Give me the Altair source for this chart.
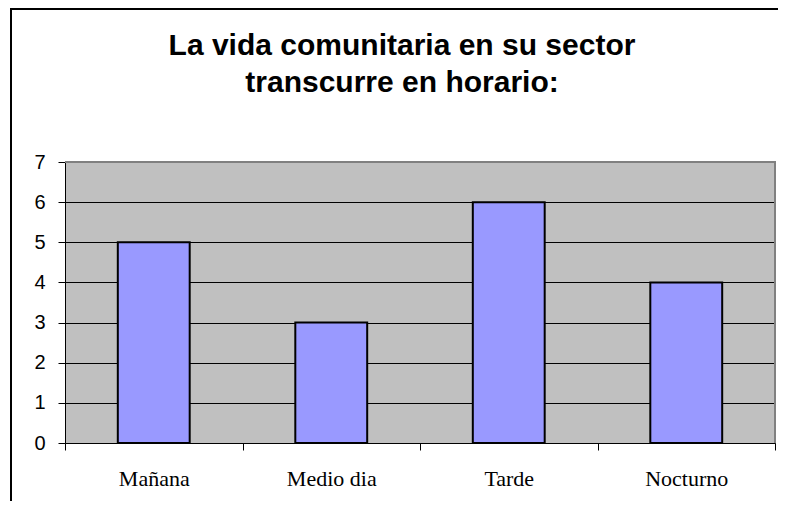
import altair as alt
import pandas as pd

categories = ["Mañana", "Medio dia", "Tarde", "Nocturno"]
values = [5, 3, 6, 4]
y_ticks = [0, 1, 2, 3, 4, 5, 6, 7]
title_lines = ["La vida comunitaria en su sector", "transcurre en horario:"]

df = pd.DataFrame({"horario": categories, "valor": values})

W, H = 710, 281

bars = alt.Chart(df).mark_bar(
    color="#9999FF", stroke="black", strokeWidth=2, width={"band": 0.405}
).encode(
    x=alt.X(
        "horario:N", sort=categories,
        scale=alt.Scale(paddingInner=0, paddingOuter=0),
        axis=alt.Axis(
            title=None, labelAngle=0, tickBand="extent", grid=False,
            domainColor="black", domainWidth=1, tickColor="black", tickSize=7, tickWidth=1,
            labelFont="Liberation Serif", labelFontSize=22, labelColor="black",
            labelPadding=18,
        ),
    ),
    y=alt.Y(
        "valor:Q", scale=alt.Scale(domain=[0, 7], nice=False),
        axis=alt.Axis(
            title=None, values=y_ticks, grid=True, gridColor="black", gridWidth=1, gridOpacity=1,
            domainColor="black", domainWidth=1, tickColor="black", tickSize=7, tickWidth=1,
            labelFont="Liberation Sans", labelFontSize=20, labelColor="black", labelPadding=13,
        ),
    ),
)

one = pd.DataFrame({"k": [0]})


def rule(x, x2, y, y2, color, w):
    return alt.Chart(one).mark_rule(color=color, strokeWidth=w, clip=False).encode(
        x=alt.value(x), x2=alt.value(x2), y=alt.value(y), y2=alt.value(y2)
    )


def title_text(line, y):
    return alt.Chart(one).mark_text(
        text=line, font="Liberation Sans", fontSize=30, fontWeight="bold", color="black",
        align="center", baseline="alphabetic", clip=False,
    ).encode(x=alt.value(337), y=alt.value(y))


decor = [
    rule(0, W + 1, 0, 0, "#808080", 2),
    rule(W, W, 0, H, "#808080", 2),
    rule(-54, -54, -154, 345, "black", 2),
    rule(-55, 713, -153, -153, "black", 2),
    title_text(title_lines[0], -107),
    title_text(title_lines[1], -70),
]

chart = alt.layer(bars, *decor).properties(
    width=W, height=H,
    view=alt.ViewBackground(fill="#C0C0C0", stroke=None),
    autosize=alt.AutoSizeParams(type="none"),
    padding={"left": 57, "top": 154, "right": 3, "bottom": 58},
).configure(background="white")

chart.save("out.html", embed_options={"renderer": "svg", "actions": False})
